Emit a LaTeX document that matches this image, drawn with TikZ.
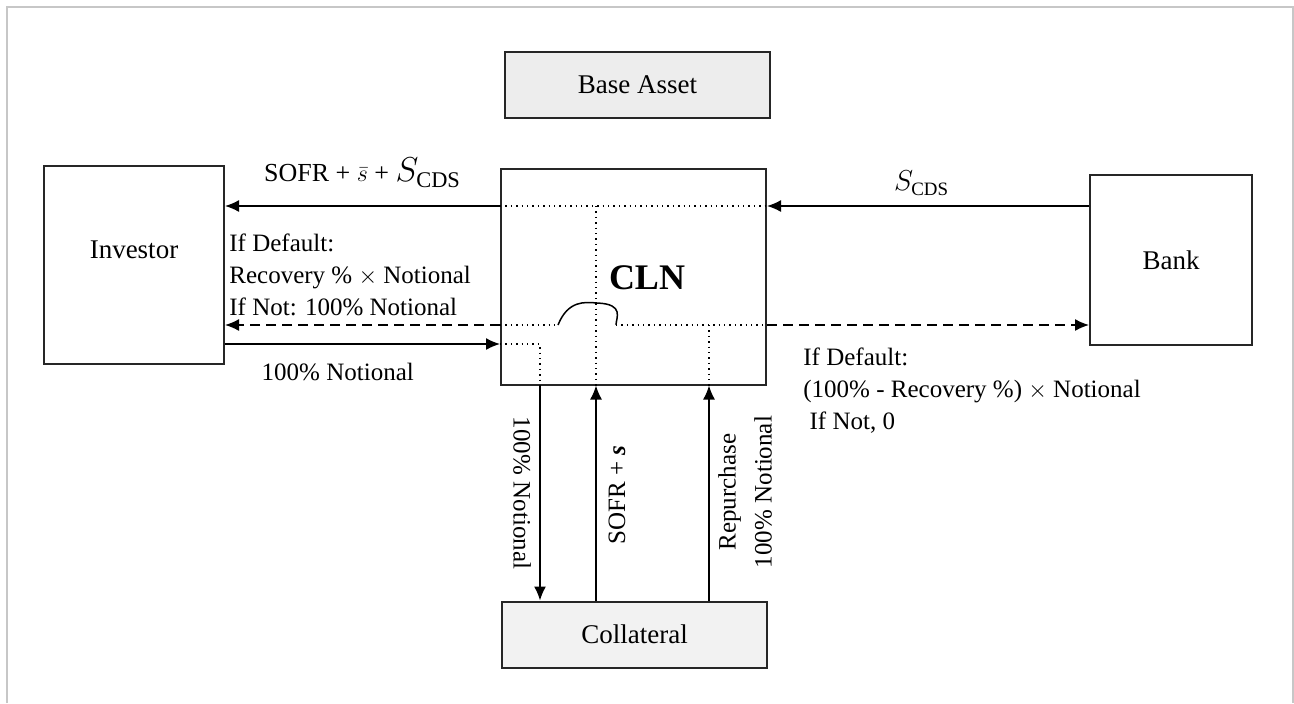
\documentclass[tikz,border=0pt]{standalone}
\usepackage{amsmath}
\usepackage{fontspec}
\setmainfont{Liberation Serif}
\usetikzlibrary{positioning, arrows.meta}

\begin{document}
\begin{tikzpicture}[
		x=0.5pt, y=-0.5pt,
		party/.style={rectangle, draw=black!85, line width=1pt, font=\fontsize{13.5}{16}\selectfont},
		asset/.style={party, fill=black!7, minimum width=132.5pt, minimum height=33pt},
		line/.style={draw, line width=0.75pt, -{Latex[length=7pt,width=6pt]}},
		cash/.style={line, dash pattern=on 5pt off 3pt},
		inner/.style={draw, line width=0.7pt, dotted},
		note/.style={font=\fontsize{12.5}{16}\selectfont, align=left, inner sep=0pt}
		]
		\useasboundingbox (0,0) rectangle (1294,703);
		
		% frame
		\draw[black!22, line width=0.8pt] (7,703) -- (7,7) -- (1293,7) -- (1293,703);
		
		% Parties
		\node[asset] (base) at (637.5,85) {Base Asset};
		\node[party, minimum width=90pt, minimum height=99pt,
			label={[yshift=7.5pt, font=\fontsize{13.5}{16}\selectfont]center:Investor}] (inv) at (134,265) {};
		\node[party, minimum width=132.5pt, minimum height=108pt,
			label={[xshift=6.75pt, yshift=-0.75pt, font=\fontsize{18}{20}\selectfont\bfseries]center:CLN}] (cln) at (633.5,276.5) {};
		\node[party, minimum width=81pt, minimum height=85pt] (bank) at (1171,260) {Bank};
		\node[asset, fill=black!5] (coll) at (634.5,634.5) {Collateral};
		
		% rows and columns of the flows
		\coordinate (rowpay) at (0,206);
		\coordinate (rowdef) at (0,325);
		\coordinate (rownot) at (0,344);
		\coordinate (colnot) at (540,0);
		\coordinate (colint) at (596,0);
		\coordinate (colrep) at (709,0);
		\coordinate (jumpl) at (558,325);
		\coordinate (jumpr) at (616,325);
		
		% Inside the note
		\path[inner] (cln.west |- rowpay) -- (cln.east |- rowpay);
		\path[inner] (colint |- rowpay) -- (colint |- cln.south);
		\path[inner] (cln.west |- rowdef) -- (jumpl);
		\draw[line width=0.75pt] (jumpl) .. controls (568,300) and (585,302) .. (597,303)
			.. controls (625,304) and (616,318) .. (jumpr);
		\path[inner] (jumpr) -- (cln.east |- rowdef);
		\path[inner] (colrep |- rowdef) -- (colrep |- cln.south);
		\path[inner] (cln.west |- rownot) -- (colnot |- rownot) -- (colnot |- cln.south);
		
		% Connections
		\path[line] (cln.west |- rowpay) -- (inv.east |- rowpay)
			node[midway, above=9pt, note, font=\fontsize{13}{16}\selectfont] (lblsofr) {SOFR + $\bar{s}$ + {\fontsize{16}{16}\selectfont$S_{\mathrm{CDS}}$}};
		\path[line] (bank.west |- rowpay) -- (cln.east |- rowpay)
			node[pos=0.52, above=5pt, note] (lblcds) {{\fontsize{13.5}{14}\selectfont$S_{\mathrm{CDS}}$}};
		\path[cash] (cln.west |- rowdef) -- (inv.east |- rowdef);
		\path[cash] (cln.east |- rowdef) -- (bank.west |- rowdef);
		\path[line] (inv.east |- rownot) -- (cln.west |- rownot)
			node[pos=0.41, below=9pt, note] (lblnot) {100\% Notional};
		
		\path[line] (colnot |- cln.south) -- (colnot |- coll.north);
		\path[line] (colint |- coll.north) -- (colint |- cln.south);
		\path[line] (colrep |- coll.north) -- (colrep |- cln.south);
		
		% Labels
		\node[note, anchor=north west] (lbldefl) at (229,233)
			{If Default:\\Recovery \% $\times$ Notional\\If Not: 100\% Notional};
		\node[note, anchor=north west] (lbldefr) at (803,347)
			{If Default:\\(100\% - Recovery \%) $\times$ Notional\\\ If Not, 0};
		\node[note, rotate=-90] (lblsell) at (522,493) {100\% Notional};
		\node[note, rotate=90] (lblint) at (617,495) {SOFR + \textbf{\textit{s}}};
		\node[note, rotate=90, align=center] (lblrep) at (745,492) {Repurchase\\[2pt]100\% Notional};
		
	\end{tikzpicture}
\end{document}
